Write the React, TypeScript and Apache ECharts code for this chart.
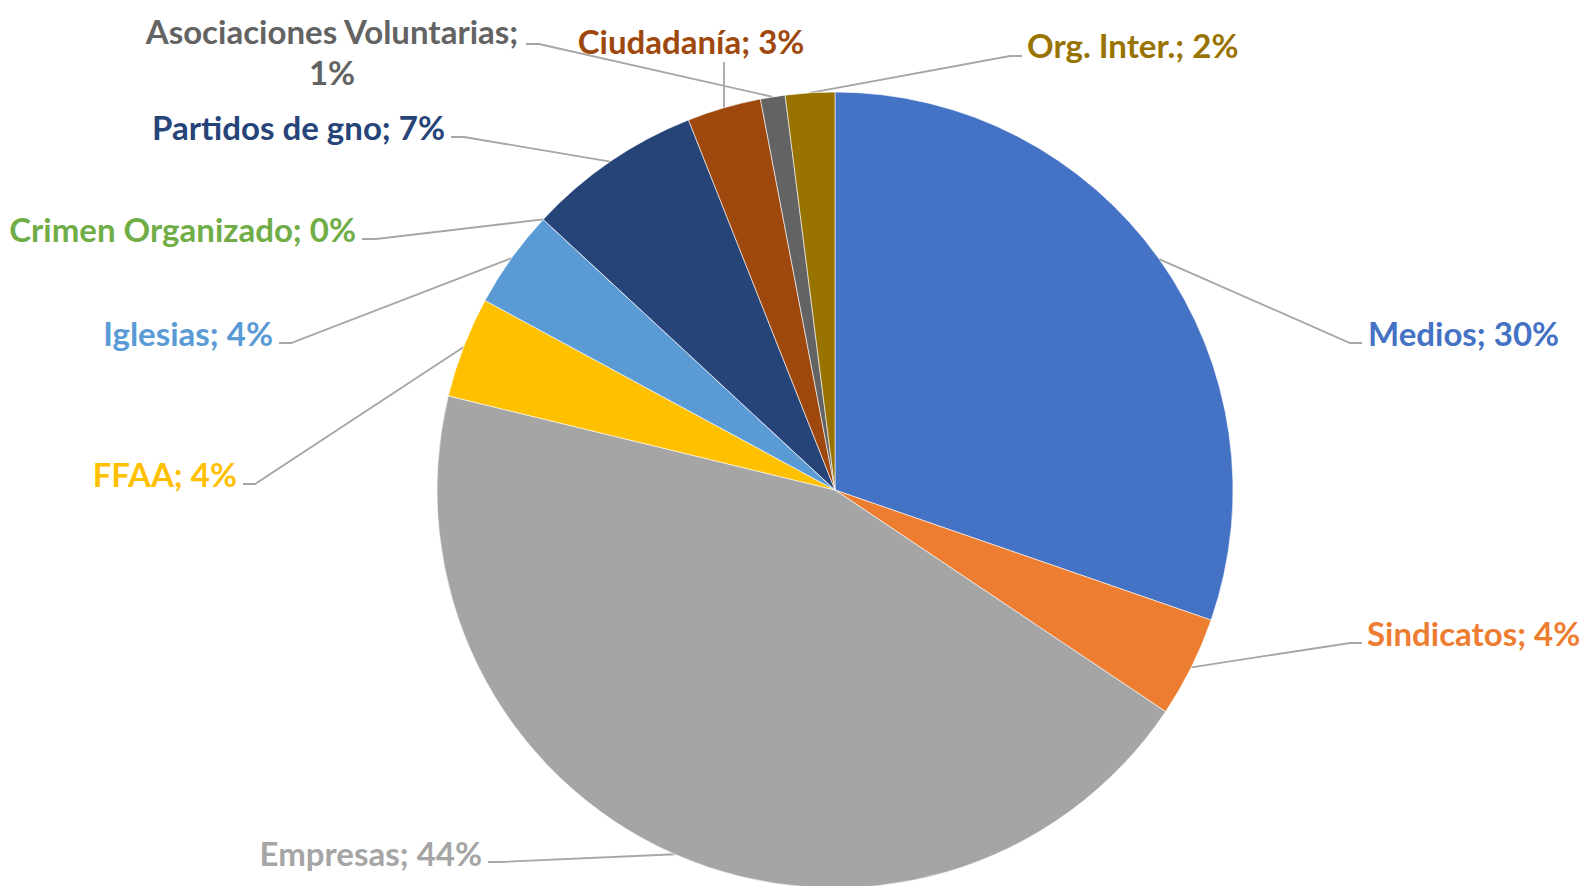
import React, { useEffect, useRef } from "react";
import * as echarts from "echarts";

const categories = [
  "Medios",
  "Sindicatos",
  "Empresas",
  "FFAA",
  "Iglesias",
  "Crimen Organizado",
  "Partidos de gno",
  "Ciudadanía",
  "Asociaciones Voluntarias",
  "Org. Inter.",
];
const shares = [30.3, 4.1, 44.4, 4.1, 4.0, 0, 7.1, 3.0, 1.0, 2.0];
const colors = [
  "#4472C4",
  "#ED7D31",
  "#A5A5A5",
  "#FFC000",
  "#5B9BD5",
  "#70AD47",
  "#264478",
  "#9E480E",
  "#636363",
  "#997300",
];
const wrapLabel = [false, false, false, false, false, false, false, false, true, false];

// label placement (pixels): text anchor, leader-line end and elbow offset
const labelPlacement = [
  { x: 1368, y: 333, align: "left", lx: 1362, ly: 343, elbow: -12 },
  { x: 1367, y: 633, align: "left", lx: 1362, ly: 643, elbow: -12 },
  { x: 482, y: 853, align: "right", lx: 488, ly: 862, elbow: 12 },
  { x: 237, y: 474, align: "right", lx: 243, ly: 484, elbow: 12 },
  { x: 273, y: 333, align: "right", lx: 279, ly: 343, elbow: 12 },
  { x: 356, y: 229, align: "right", lx: 362, ly: 239, elbow: 14 },
  { x: 445, y: 127, align: "right", lx: 451, ly: 137, elbow: 13 },
  { x: 691, y: 41, align: "center", lx: 724, ly: 62, elbow: 0 },
  { x: 332, y: 51, align: "center", lx: 526, ly: 44, elbow: 13 },
  { x: 1027, y: 45, align: "left", lx: 1022, ly: 56, elbow: -12 },
];

export default function App() {
  const ref = useRef<HTMLDivElement>(null);
  useEffect(() => {
    document.body.style.margin = "0";
    if (!ref.current) return;
    const chart = echarts.init(ref.current, null, { renderer: "svg" });
    const data = categories.map((name, i) => ({
      name,
      value: shares[i],
      itemStyle: { color: colors[i] },
      label: { color: colors[i] },
    }));
    chart.setOption({
      animation: false,
      backgroundColor: "#ffffff",
      series: [
        {
          type: "pie",
          center: [835, 490],
          radius: 398,
          startAngle: 90,
          clockwise: true,
          avoidLabelOverlap: false,
          data,
          itemStyle: { borderColor: "#ffffff", borderWidth: 0.6 },
          label: {
            show: true,
            position: "outside",
            fontFamily: "Lato",
            fontWeight: "bold",
            fontSize: 33,
            lineHeight: 41,
            overflow: "none",
            formatter: (p: any) =>
              `${p.name};${wrapLabel[p.dataIndex] ? "\n" : " "}${Math.round(p.percent)}%`,
          },
          labelLine: {
            show: true,
            lineStyle: { color: "#A6A6A6", width: 1.8 },
          },
          labelLayout: (params: any) => {
            const pl = labelPlacement[params.dataIndex];
            const res: any = {
              x: pl.x,
              y: pl.y,
              align: pl.align,
              verticalAlign: "middle",
            };
            const pts = params.labelLinePoints;
            if (pts && pts.length) {
              const edge = pts[0];
              res.labelLinePoints =
                pl.elbow === 0
                  ? [edge, [pl.lx, pl.ly], [pl.lx, pl.ly]]
                  : [edge, [pl.lx + pl.elbow, pl.ly], [pl.lx, pl.ly]];
            }
            return res;
          },
        },
      ],
    });
    return () => chart.dispose();
  }, []);
  return <div ref={ref} style={{ width: 1582, height: 886 }} />;
}
